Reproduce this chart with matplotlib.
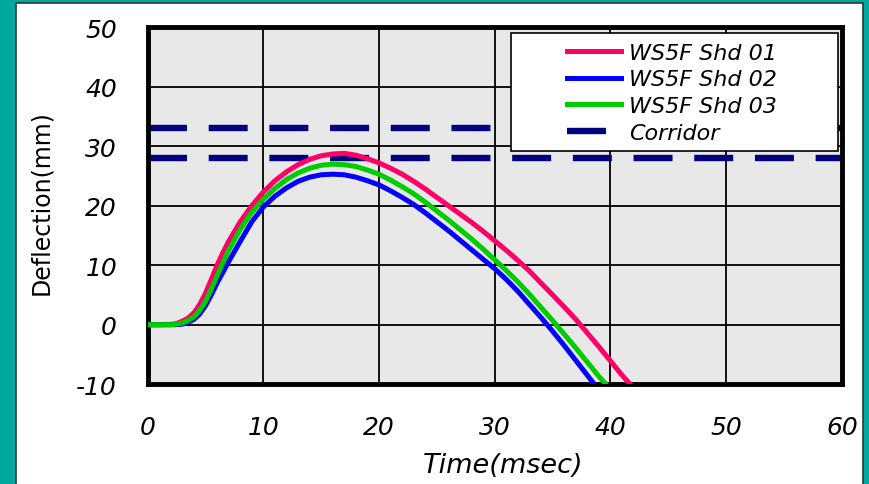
import matplotlib
matplotlib.use("Agg")
import matplotlib.pyplot as plt
import matplotlib.patches as patches

plt.rcParams["axes.unicode_minus"] = False
plt.rcParams["font.family"] = ["DejaVu Sans"]
plt.rcParams["font.style"] = "italic"

# deflection traces (time in msec, deflection in mm)
t_shd01 = [0, 1, 2, 2.5, 3, 3.5, 4, 4.5, 5, 5.5, 6, 6.5, 7, 8, 9, 10, 11, 12, 13, 14, 15,
           16, 17, 18, 19, 20, 21, 22, 23, 24, 25, 26, 27, 28, 29, 30, 31, 32, 33, 34, 35,
           36, 37, 38, 39, 40, 41, 41.7]
d_shd01 = [0, 0, 0.05, 0.2, 0.6, 1.1, 2.0, 3.4, 5.3, 7.6, 10.0, 12.1, 14.0, 17.3, 20.0,
           22.3, 24.2, 25.7, 26.9, 27.8, 28.4, 28.7, 28.8, 28.5, 27.9, 27.2, 26.3, 25.3,
           24.1, 22.8, 21.4, 20.0, 18.6, 17.2, 15.7, 14.1, 12.5, 10.8, 9.0, 7.0, 5.0, 3.0,
           0.9, -1.4, -3.7, -6.1, -8.5, -10.0]

t_shd02 = [0, 1, 2, 2.5, 3, 3.5, 4, 4.5, 5, 5.5, 6, 6.5, 7, 8, 9, 10, 11, 12, 13, 14, 15,
           16, 17, 18, 19, 20, 21, 22, 23, 24, 25, 26, 27, 28, 29, 30, 31, 32, 33, 34, 35,
           36, 37, 38, 38.6]
d_shd02 = [0, 0, 0, 0.02, 0.1, 0.4, 0.9, 1.8, 3.2, 5.0, 7.0, 8.8, 10.6, 14.0, 17.3, 19.8,
           21.6, 23.0, 24.1, 24.8, 25.2, 25.3, 25.2, 24.8, 24.2, 23.5, 22.5, 21.4, 20.2,
           18.8, 17.3, 15.8, 14.2, 12.6, 11.0, 9.4, 7.6, 5.6, 3.4, 1.2, -1.1, -3.5, -6.0,
           -8.5, -10.0]

t_shd03 = [0, 1, 2, 2.5, 3, 3.5, 4, 4.5, 5, 5.5, 6, 6.5, 7, 8, 9, 10, 11, 12, 13, 14, 15,
           16, 17, 18, 19, 20, 21, 22, 23, 24, 25, 26, 27, 28, 29, 30, 31, 32, 33, 34, 35,
           36, 37, 38, 39, 39.6]
d_shd03 = [0, 0, 0, 0.1, 0.3, 0.7, 1.3, 2.4, 3.9, 6.0, 8.2, 10.4, 12.5, 16.0, 18.9, 21.1,
           22.9, 24.4, 25.5, 26.3, 26.8, 27.0, 26.9, 26.6, 26.0, 25.3, 24.3, 23.2, 22.0,
           20.6, 19.1, 17.6, 16.0, 14.4, 12.7, 10.9, 9.1, 7.2, 5.1, 2.9, 0.7, -1.6, -3.9,
           -6.3, -8.7, -10.0]

corridor_upper = 33
corridor_lower = 28

x_ticks = [0, 10, 20, 30, 40, 50, 60]
y_ticks = [-10, 0, 10, 20, 30, 40, 50]

fig = plt.figure(figsize=(8.69, 4.85), dpi=100)
fig.patch.set_facecolor("#00A99D")

# white slide panel behind the chart
panel = patches.Rectangle((16 / 869, -0.05), (863 - 16) / 869, 1.05 - 4 / 485,
                          transform=fig.transFigure, facecolor="white",
                          edgecolor="#2b3a3a", linewidth=1.2, zorder=-10)
fig.patches.append(panel)

ax = fig.add_axes([0.1699, 0.2058, 0.7989, 0.7359])
ax.set_facecolor("#E8E8E8")

ax.plot(t_shd01, d_shd01, color="#FF0066", lw=3.6, label="WS5F Shd 01", zorder=3)
ax.plot(t_shd02, d_shd02, color="#0000FF", lw=3.6, label="WS5F Shd 02", zorder=3)
ax.plot(t_shd03, d_shd03, color="#00CC00", lw=3.6, label="WS5F Shd 03", zorder=3.1)
for i, yv in enumerate([corridor_upper, corridor_lower]):
    ax.plot([0, 60], [yv, yv], color="#000080", lw=4.6, dashes=(6.1, 3.4),
            dash_capstyle="butt", label="Corridor" if i == 0 else None, zorder=2.5)

ax.set_xlim(0, 60)
ax.set_ylim(-10, 50)
ax.set_xticks(x_ticks)
ax.set_yticks(y_ticks)
ax.set_xticklabels([str(v) for v in x_ticks], fontstyle="italic", fontsize=18)
ax.set_yticklabels([str(v) for v in y_ticks], fontstyle="italic", fontsize=18)
ax.grid(True, color="black", lw=1.3)
ax.set_axisbelow(True)
ax.tick_params(length=0, pad=22)
for sp in ax.spines.values():
    sp.set_linewidth(3.5)
    sp.set_color("black")

ax.set_xlabel("Time(msec)", fontstyle="italic", fontsize=19.5)
ax.xaxis.set_label_coords(0.512, -0.19)
ax.set_ylabel("Deflection(mm)", fontstyle="normal", fontsize=17)
ax.yaxis.set_label_coords(-0.136, 0.513)

# legend box drawn separately so the entries sit centred in it
box = patches.Rectangle((0.5235, 0.653), 0.471, 0.331, transform=ax.transAxes,
                        facecolor="white", edgecolor="black", lw=1.2, zorder=4.5)
ax.add_patch(box)
leg = ax.legend(loc="upper left", bbox_to_anchor=(0.582, 1.0), frameon=False,
                prop={"style": "italic", "size": 16},
                handlelength=2.4, handletextpad=0.4, labelspacing=0.3,
                borderpad=0.2)
leg.set_zorder(5)

fig.savefig("out.png", dpi=100, facecolor=fig.get_facecolor())
